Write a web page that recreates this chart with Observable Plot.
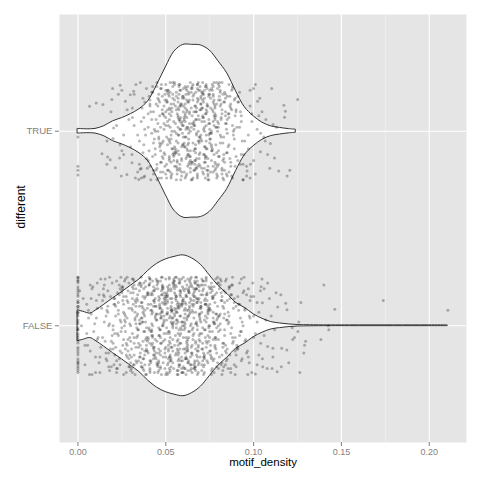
<!DOCTYPE html>
<html><head><meta charset="utf-8">
<script src="https://cdn.jsdelivr.net/npm/d3@7"></script>
<script src="https://cdn.jsdelivr.net/npm/@observablehq/plot@0.6"></script>
<style>body{margin:0;background:#fff;} #chart{width:480px;height:480px;}</style>
</head><body><div id="chart"></div>
<script>
// categories and axis ticks
const categories = ["FALSE", "TRUE"];
const catPos = {FALSE: 1, TRUE: 2};
const xTicks = [0, 0.05, 0.1, 0.15, 0.2];
const xMinor = [0.025, 0.075, 0.125, 0.175];

// violin outlines (half-width in category units)
const violinTrueX = [0,.005,.01,.015,.02,.025,.03,.035,.04,.045,.05,.055,.06,.065,.07,.075,.08,.085,.09,.095,.1,.105,.11,.115,.12,.124];
const violinTrueHalf = [.012,.010,.012,.026,.051,.067,.087,.113,.154,.236,.328,.410,.444,.444,.441,.415,.359,.297,.205,.123,.077,.044,.025,.017,.011,.008];
const violinFalseX = [0,.003,.007,.01,.015,.02,.025,.03,.035,.04,.045,.05,.055,.06,.065,.07,.075,.08,.085,.09,.095,.1,.105,.11,.115,.12,.125,.13,.14,.16,.18,.2,.2105];
const violinFalseHalf = [.079,.072,.063,.077,.108,.141,.172,.205,.238,.282,.318,.341,.354,.362,.346,.313,.259,.205,.164,.118,.092,.059,.036,.019,.012,.007,.004,.003,.002,.002,.002,.002,.002];

// vertical jitter offsets of the points
const jitter = [
.12,-.21,.03,.24,-.08,-.17,.19,-.02,.07,-.24,.15,-.11,.22,-.05,.01,-.19,.09,.17,-.14,.05,
-.23,.13,-.06,.20,-.12,.02,.25,-.18,.10,-.01,-.09,.16,-.22,.06,.23,-.15,.00,-.20,.14,-.04,
.18,-.10,.08,-.25,.21,-.03,.11,-.16,.04,.19,-.13,-.07,.24,-.19,.13,-.24,.02,.09,-.11,.16,
-.06,.22,-.17,.01,.07,-.21,.15,-.02,-.14,.25,.10,-.08,.05,-.23,.18,-.12,.21,-.04,.12,-.18,
.03,-.09,.20,-.15,.08,.23,-.20,.14,-.05,-.22,.17,.00,-.13,.11,-.24,.06,.19,-.07,-.16,.24,
.09,-.01,-.19,.15,.04,-.12,.22,-.25,.13,.02,-.08,.18,-.17,.07,-.03,.25,-.21,.11,-.10,.05,
-.14,.20,.01,-.06,.16,-.23,.10,.08,-.18,.21,-.02,.14,-.11,-.20,.03,.17,-.05,.24,-.15,.12,
.06,-.24,.19,-.09,.00,.13,-.16,.23,-.04,.10,-.21,.05,.15,-.13,.22,-.07,-.19,.08,.02,-.12,
.25,-.03,-.17,.11,.18,-.10,.04,-.22,.14,-.06,.21,-.15,.09,.01,-.25,.16,-.08,.20,-.13,.07,
-.01,.12,-.20,.24,-.11,.06,-.16,.17,.03,-.23,.13,-.05,.19,-.18,.10,-.02,.23,-.14,.05,-.09,
.17,-.12,.04,-.22,.20,.08,-.06,.14,-.19,.01,.24,-.15,-.03,.10,-.24,.18,.06,-.10,.22,-.17,
-.07,.15,.25,-.13,.02,-.20,.11,-.01,.19,-.09,.05,-.23,.16,.09,-.16,.21,-.04,.13,-.21,.00,
.11,-.18,.07,.23,-.08,.14,-.25,.04,-.12,.20,-.02,.17,-.14,.08,.24,-.06,-.19,.12,.03,-.22,
.21,-.05,-.15,.09,.18,-.24,.01,.16,-.10,.06,-.18,.25,-.01,.13,-.21,.04,.19,-.11,-.07,.15,
-.16,.02,.22,-.20,.10,-.04,.14,-.13,.23,-.08,.07,.19,-.22,.00,.12,-.17,.05,.21,-.25,.09,
.04,.24,-.11,.16,-.03,-.19,.08,.20,-.14,.11,-.23,.02,.17,-.06,.25,-.12,.10,-.02,.15,-.20,
-.10,.19,.06,-.22,.13,-.07,.23,-.16,.01,.18,-.13,.09,-.24,.14,-.04,.07,.22,-.18,.11,-.01,
.16,-.21,.12,.03,-.09,.24,-.15,.05,.20,-.25,.10,-.05,.15,-.12,.02,-.17,.18,.08,-.23,.13,
-.02,.09,-.18,.21,.00,-.14,.17,-.08,.11,.25,-.20,.06,-.11,.19,-.16,.23,-.03,.04,-.24,.14,
.20,-.13,.01,-.06,.15,.07,-.22,.18,-.15,.03,.12,-.19,.22,-.09,.08,-.01,-.17,.24,.05,-.12,
.08,-.04,.21,-.23,.14,-.10,.02,.17,-.18,.25,-.07,.11,.00,-.21,.16,-.14,.06,.19,-.09,.23,
-.19,.13,-.02,.07,-.24,.20,.10,-.12,.04,-.16,.22,-.05,.15,-.25,.09,.01,-.20,.12,.18,-.08,
.14,-.22,.19,.05,-.13,-.01,.23,-.17,.08,.12,-.06,.21,-.11,.03,-.19,.16,.25,-.15,-.03,.10,
-.05,.18,-.20,.11,.06,-.09,.16,-.24,.21,-.14,.00,.13,-.18,.24,-.02,.07,-.12,.02,.19,-.16,
.23,-.08,.10,-.17,.01,.15,-.21,.09,-.03,.20,-.10,.04,.17,-.23,.12,-.07,.22,-.13,.06,-.25,
.02,.16,-.14,.22,-.06,-.18,.11,.03,-.22,.14,.19,-.11,.07,-.01,-.16,.24,-.09,.13,-.20,.05,
-.12,.21,.04,-.19,.17,-.02,.09,-.25,.13,-.07,.23,.01,-.15,.18,-.10,.06,-.21,.15,.00,-.13,
.19,-.06,-.24,.12,.03,-.15,.20,-.09,.16,-.20,.05,.25,-.04,.10,-.17,.14,.02,-.22,.21,-.11,
-.03,.11,.17,-.21,.08,-.12,.24,-.05,.00,.15,-.18,.22,-.08,-.14,.04,.19,-.24,.09,-.06,.16,
.13,-.16,.06,.20,-.25,.01,-.10,.14,.23,-.04,.10,-.20,.18,-.13,.07,-.02,.12,-.19,.25,-.07
];

// motif_density of the TRUE points (bulk, first set: jitter read forwards)
const trueX = [
.031,.034,.032,.033,.030,.035,.032,.034,.031,
.036,.038,.037,.039,.035,.038,.036,.040,.037,.039,.036,.038,
.041,.043,.042,.044,.040,.045,.041,.043,.042,.044,.041,.043,.042,.045,.040,.044,.043,.041,
.046,.048,.047,.049,.045,.050,.046,.048,.047,.049,.046,.048,.047,.050,.045,.049,.046,.047,.048,.049,.046,.048,.047,.045,.049,.050,.047,
.051,.053,.052,.054,.050,.055,.051,.053,.052,.054,.051,.053,.052,.055,.050,.054,.051,.052,.053,.054,.051,.053,.052,.050,.054,.055,.052,.051,.053,.052,.054,.051,.053,.055,.052,
.056,.058,.057,.059,.055,.060,.056,.058,.057,.059,.056,.058,.057,.060,.055,.059,.056,.057,.058,.059,.056,.058,.057,.055,.059,.060,.057,.056,.058,.057,.059,.056,.058,.060,.057,.056,.058,.059,.057,.058,
.061,.063,.062,.064,.060,.065,.061,.063,.062,.064,.061,.063,.062,.065,.060,.064,.061,.062,.063,.064,.061,.063,.062,.060,.064,.065,.062,.061,.063,.062,.064,.061,.063,.065,.062,.061,.063,.064,.062,.063,.061,
.066,.068,.067,.069,.065,.070,.066,.068,.067,.069,.066,.068,.067,.070,.065,.069,.066,.067,.068,.069,.066,.068,.067,.065,.069,.070,.067,.066,.068,.067,.069,.066,.068,.070,.067,.066,.068,.069,.067,.068,
.071,.073,.072,.074,.070,.075,.071,.073,.072,.074,.071,.073,.072,.075,.070,.074,.071,.072,.073,.074,.071,.073,.072,.070,.074,.075,.072,.071,.073,.072,.074,.071,.073,.075,.072,.071,.073,.074,.072,.073,
.076,.078,.077,.079,.075,.080,.076,.078,.077,.079,.076,.078,.077,.080,.075,.079,.076,.077,.078,.079,.076,.078,.077,.075,.079,.080,.077,.076,.078,.077,.079,.076,.078,.080,.077,
.081,.083,.082,.084,.080,.085,.081,.083,.082,.084,.081,.083,.082,.085,.080,.084,.081,.082,.083,.084,.081,.083,.082,.080,.084,.085,.082,.081,
.086,.088,.087,.089,.085,.090,.086,.088,.087,.089,.086,.088,.087,.090,.085,.089,.086,.087,.088,.089,.086,
.091,.093,.092,.094,.090,.095,.091,.093,.092,.094,.091,.093,
.096,.098,.097,.099,.096,.098
];
// TRUE points, second set (jitter read backwards)
const trueX2 = [
.0375,.0355,.0395,.0365,.0385,.0375,
.0425,.0405,.0445,.0415,.0435,.0425,.0445,.0405,.0435,.0415,.0425,.0445,
.0475,.0455,.0495,.0465,.0485,.0475,.0495,.0455,.0485,.0465,.0475,.0495,.0465,.0455,.0485,.0475,.0495,.0465,.0485,.0455,
.0525,.0505,.0545,.0515,.0535,.0525,.0545,.0505,.0535,.0515,.0525,.0545,.0515,.0505,.0535,.0525,.0545,.0515,.0535,.0505,.0525,.0515,.0545,.0535,.0505,.0525,
.0575,.0555,.0595,.0565,.0585,.0575,.0595,.0555,.0585,.0565,.0575,.0595,.0565,.0555,.0585,.0575,.0595,.0565,.0585,.0555,.0575,.0565,.0595,.0585,.0555,.0575,.0585,.0565,.0595,.0575,
.0625,.0605,.0645,.0615,.0635,.0625,.0645,.0605,.0635,.0615,.0625,.0645,.0615,.0605,.0635,.0625,.0645,.0615,.0635,.0605,.0625,.0615,.0645,.0635,.0605,.0625,.0635,.0615,.0645,.0625,.0605,
.0675,.0655,.0695,.0665,.0685,.0675,.0695,.0655,.0685,.0665,.0675,.0695,.0665,.0655,.0685,.0675,.0695,.0665,.0685,.0655,.0675,.0665,.0695,.0685,.0655,.0675,.0685,.0665,.0695,.0675,
.0725,.0705,.0745,.0715,.0735,.0725,.0745,.0705,.0735,.0715,.0725,.0745,.0715,.0705,.0735,.0725,.0745,.0715,.0735,.0705,.0725,.0715,.0745,.0735,.0705,.0725,.0735,.0715,.0745,.0725,
.0775,.0755,.0795,.0765,.0785,.0775,.0795,.0755,.0785,.0765,.0775,.0795,.0765,.0755,.0785,.0775,.0795,.0765,.0785,.0755,.0775,.0765,.0795,.0785,.0755,.0775,
.0825,.0805,.0845,.0815,.0835,.0825,.0845,.0805,.0835,.0815,.0825,.0845,.0815,.0805,.0835,.0825,.0845,.0815,.0835,.0805,
.0875,.0855,.0895,.0865,.0885,.0875,.0895,.0855,.0885,.0865,.0875,.0895,.0865,
.0925,.0905,.0945,.0915,.0935,.0925
];
// TRUE points in the tails: [motif_density, jitter]
const trueTail = [
[0,-.18],[0,-.20],[0,-.225],[0,-.03],
[.0066,.128],[.0104,.145],[.0142,.137],[.0197,.22],[.0193,.163],[.0188,.10],[.0241,.236],[.027,.154],[.0298,.188],[.0317,.205],
[.0203,.017],[.0165,-.05],[.02,-.037],[.0137,-.116],[.0169,-.133],[.0184,-.147],[.0165,-.17],[.0213,-.188],[.0247,-.23],[.0279,-.222],
[.0327,-.24],[.0346,-.248],[.0374,-.236],[.0237,-.137],[.026,-.12],[.0308,-.12],[.0308,-.162],[.025,-.10],[.0355,-.196],
[.022,.03],[.026,-.02],[.029,.06],[.024,-.07],[.028,.11],[.023,.19],[.025,.21],
[.1251,.163],[.1172,.133],[.1181,.103],[.1176,.072],[.1103,.219],[.1206,-.20],[.1191,-.23],[.1143,-.205],[.1119,-.137],[.1092,-.19],
[.1096,-.063],[.1111,.034],[.1058,-.03],[.1066,-.05],[.1039,-.106],[.101,.24],[.10,.22],[.1035,.17],[.1023,.154],[.1048,.10],
[.101,-.22],[.098,-.24],[.094,-.25],[.0963,-.205],[.0982,-.17],
[.102,.01],[.107,.06],[.104,-.01],[.108,-.12],[.113,.02],[.099,.05],[.097,-.09],[.1,-.15],[.103,.08]
];

// motif_density of the FALSE points (bulk, first set: jitter read forwards)
const falseX = [
0,0,0,0,0,0,0,0,0,0,0,0,0,0,0,0,0,0,0,0,0,0,0,0,0,0,0,0,0,0,0,0,0,0,0,0,
.002,.004,.003,.005,.001,.004,
.006,.008,.007,.009,.005,.010,.006,.008,.007,
.011,.013,.012,.014,.010,.015,.011,.013,.012,.014,.011,
.016,.018,.017,.019,.015,.020,.016,.018,.017,.019,.016,.018,.017,.020,.015,
.021,.023,.022,.024,.020,.025,.021,.023,.022,.024,.021,.023,.022,.025,.020,.024,.021,.022,.023,.024,
.026,.028,.027,.029,.025,.030,.026,.028,.027,.029,.026,.028,.027,.030,.025,.029,.026,.027,.028,.029,.026,.028,.027,.025,
.031,.033,.032,.034,.030,.035,.031,.033,.032,.034,.031,.033,.032,.035,.030,.034,.031,.032,.033,.034,.031,.033,.032,.030,.034,.035,.032,.031,.033,
.036,.038,.037,.039,.035,.040,.036,.038,.037,.039,.036,.038,.037,.040,.035,.039,.036,.037,.038,.039,.036,.038,.037,.035,.039,.040,.037,.036,.038,.037,.039,.036,.038,
.041,.043,.042,.044,.040,.045,.041,.043,.042,.044,.041,.043,.042,.045,.040,.044,.041,.042,.043,.044,.041,.043,.042,.040,.044,.045,.042,.041,.043,.042,.044,.041,.043,.045,.042,.041,.043,.044,
.046,.048,.047,.049,.045,.050,.046,.048,.047,.049,.046,.048,.047,.050,.045,.049,.046,.047,.048,.049,.046,.048,.047,.045,.049,.050,.047,.046,.048,.047,.049,.046,.048,.050,.047,.046,.048,.049,.047,.048,.046,.047,
.051,.053,.052,.054,.050,.055,.051,.053,.052,.054,.051,.053,.052,.055,.050,.054,.051,.052,.053,.054,.051,.053,.052,.050,.054,.055,.052,.051,.053,.052,.054,.051,.053,.055,.052,.051,.053,.054,.052,.053,.051,.052,.054,.053,.051,
.056,.058,.057,.059,.055,.060,.056,.058,.057,.059,.056,.058,.057,.060,.055,.059,.056,.057,.058,.059,.056,.058,.057,.055,.059,.060,.057,.056,.058,.057,.059,.056,.058,.060,.057,.056,.058,.059,.057,.058,.056,.057,.059,.058,.056,.060,.057,
.061,.063,.062,.064,.060,.065,.061,.063,.062,.064,.061,.063,.062,.065,.060,.064,.061,.062,.063,.064,.061,.063,.062,.060,.064,.065,.062,.061,.063,.062,.064,.061,.063,.065,.062,.061,.063,.064,.062,.063,.061,.062,.064,.063,.061,.065,
.066,.068,.067,.069,.065,.070,.066,.068,.067,.069,.066,.068,.067,.070,.065,.069,.066,.067,.068,.069,.066,.068,.067,.065,.069,.070,.067,.066,.068,.067,.069,.066,.068,.070,.067,.066,.068,.069,.067,.068,.066,.067,.069,.068,
.071,.073,.072,.074,.070,.075,.071,.073,.072,.074,.071,.073,.072,.075,.070,.074,.071,.072,.073,.074,.071,.073,.072,.070,.074,.075,.072,.071,.073,.072,.074,.071,.073,.075,.072,.071,.073,.074,
.076,.078,.077,.079,.075,.080,.076,.078,.077,.079,.076,.078,.077,.080,.075,.079,.076,.077,.078,.079,.076,.078,.077,.075,.079,.080,.077,.076,.078,.077,.079,.076,
.081,.083,.082,.084,.080,.085,.081,.083,.082,.084,.081,.083,.082,.085,.080,.084,.081,.082,.083,.084,.081,.083,.082,.080,.084,
.086,.088,.087,.089,.085,.090,.086,.088,.087,.089,.086,.088,.087,.090,.085,.089,.086,.087,.088,
.091,.093,.092,.094,.090,.095,.091,.093,.092,.094,.091,.093,.092,.095,
.096,.098,.097,.099,.095,.100,.096,.098,.097
];
// FALSE points, second set (jitter read backwards)
const falseX2 = [
0,0,0,0,0,0,0,0,0,0,0,0,
.0075,.0055,.0095,.0065,.0085,.0075,
.0125,.0105,.0145,.0115,.0135,.0125,.0145,.0105,
.0175,.0155,.0195,.0165,.0185,.0175,.0195,.0155,.0185,.0165,.0175,
.0225,.0205,.0245,.0215,.0235,.0225,.0245,.0205,.0235,.0215,.0225,.0245,.0215,.0205,.0235,
.0275,.0255,.0295,.0265,.0285,.0275,.0295,.0255,.0285,.0265,.0275,.0295,.0265,.0255,.0285,.0275,.0295,.0265,.0285,.0255,
.0325,.0305,.0345,.0315,.0335,.0325,.0345,.0305,.0335,.0315,.0325,.0345,.0315,.0305,.0335,.0325,.0345,.0315,.0335,.0305,.0325,.0315,.0345,.0335,
.0375,.0355,.0395,.0365,.0385,.0375,.0395,.0355,.0385,.0365,.0375,.0395,.0365,.0355,.0385,.0375,.0395,.0365,.0385,.0355,.0375,.0365,.0395,.0385,.0355,.0375,.0385,.0365,
.0425,.0405,.0445,.0415,.0435,.0425,.0445,.0405,.0435,.0415,.0425,.0445,.0415,.0405,.0435,.0425,.0445,.0415,.0435,.0405,.0425,.0415,.0445,.0435,.0405,.0425,.0435,.0415,.0445,.0425,.0405,.0435,
.0475,.0455,.0495,.0465,.0485,.0475,.0495,.0455,.0485,.0465,.0475,.0495,.0465,.0455,.0485,.0475,.0495,.0465,.0485,.0455,.0475,.0465,.0495,.0485,.0455,.0475,.0485,.0465,.0495,.0475,.0455,.0485,.0465,.0495,.0475,
.0525,.0505,.0545,.0515,.0535,.0525,.0545,.0505,.0535,.0515,.0525,.0545,.0515,.0505,.0535,.0525,.0545,.0515,.0535,.0505,.0525,.0515,.0545,.0535,.0505,.0525,.0535,.0515,.0545,.0525,.0505,.0535,.0515,.0545,.0525,.0515,.0535,.0505,
.0575,.0555,.0595,.0565,.0585,.0575,.0595,.0555,.0585,.0565,.0575,.0595,.0565,.0555,.0585,.0575,.0595,.0565,.0585,.0555,.0575,.0565,.0595,.0585,.0555,.0575,.0585,.0565,.0595,.0575,.0555,.0585,.0565,.0595,.0575,.0565,.0585,.0555,.0595,.0575,
.0625,.0605,.0645,.0615,.0635,.0625,.0645,.0605,.0635,.0615,.0625,.0645,.0615,.0605,.0635,.0625,.0645,.0615,.0635,.0605,.0625,.0615,.0645,.0635,.0605,.0625,.0635,.0615,.0645,.0625,.0605,.0635,.0615,.0645,.0625,.0615,.0635,.0605,.0645,
.0675,.0655,.0695,.0665,.0685,.0675,.0695,.0655,.0685,.0665,.0675,.0695,.0665,.0655,.0685,.0675,.0695,.0665,.0685,.0655,.0675,.0665,.0695,.0685,.0655,.0675,.0685,.0665,.0695,.0675,.0655,.0685,.0665,.0695,.0675,.0665,
.0725,.0705,.0745,.0715,.0735,.0725,.0745,.0705,.0735,.0715,.0725,.0745,.0715,.0705,.0735,.0725,.0745,.0715,.0735,.0705,.0725,.0715,.0745,.0735,.0705,.0725,.0735,.0715,.0745,.0725,.0705,
.0775,.0755,.0795,.0765,.0785,.0775,.0795,.0755,.0785,.0765,.0775,.0795,.0765,.0755,.0785,.0775,.0795,.0765,.0785,.0755,.0775,.0765,.0795,.0785,.0755,
.0825,.0805,.0845,.0815,.0835,.0825,.0845,.0805,.0835,.0815,.0825,.0845,.0815,.0805,.0835,.0825,.0845,.0815,.0835,
.0875,.0855,.0895,.0865,.0885,.0875,.0895,.0855,.0885,.0865,.0875,.0895,.0865,.0855,
.0925,.0905,.0945,.0915,.0935,.0925,.0945,.0905,.0935,.0915,
.0975,.0955,.0995,.0965,.0985,.0975
];
// FALSE points in the right tail: [motif_density, jitter]
const falseTail = [
[.140,.21],[.1738,.13],[.2106,.08],[.1462,.085],[.1383,-.07],[.1425,0],[.1428,-.02],[.1263,-.24],[.1286,-.14],[.1296,-.08],
[.129,-.10],[.1269,.12],[.1257,.02],[.1252,-.03],[.1223,-.07],[.1233,-.06],[.12,-.19],[.1189,-.125],[.116,-.116],[.1158,-.21],
[.1183,.116],[.119,.082],[.1155,.16],[.1128,.17],[.1137,.096],[.1134,-.236],[.111,-.115],[.111,-.16],[.1105,-.22],[.1077,-.22],
[.1052,-.21],[.108,-.106],[.1048,.24],[.1043,.20],[.105,.118],[.101,-.248],[.0967,-.25],[.1039,.18],[.102,.12],[.103,-.15],
[.102,.02],[.122,-.01],[.1,.05],[.101,-.04],[.103,.07],[.106,-.05],[.107,.03],[.109,.14],[.104,-.09],[.112,-.02],
[.100,.15],[.105,-.17],[.108,.22],[.106,.19],[.102,-.2],[.110,.05]
];

// build tables
const violins = [];
violinTrueX.forEach((x, i) => violins.push({cat: "TRUE", x, h: violinTrueHalf[i]}));
violinFalseX.forEach((x, i) => violins.push({cat: "FALSE", x, h: violinFalseHalf[i]}));
const points = [];
const nJ = jitter.length;
const addSet = (cat, xs, backwards) => xs.forEach((x, i) => {
  const j = backwards ? jitter[nJ - 1 - i] : jitter[i];
  if (j !== undefined) points.push({cat, x, j});
});
addSet("TRUE", trueX, false);
addSet("TRUE", trueX2, true);
trueTail.forEach(([x, j]) => points.push({cat: "TRUE", x, j}));
addSet("FALSE", falseX, false);
addSet("FALSE", falseX2, true);
falseTail.forEach(([x, j]) => points.push({cat: "FALSE", x, j}));

const grey = "#7F7F7F";
const violinMark = cat => Plot.areaY(violins.filter(d => d.cat === cat), {
  x: "x", y1: d => catPos[d.cat] - d.h, y2: d => catPos[d.cat] + d.h,
  fill: "white", stroke: "#333333", strokeWidth: 1, curve: "catmull-rom"
});

const chart = Plot.plot({
  width: 480, height: 480,
  marginLeft: 59, marginRight: 14, marginTop: 14, marginBottom: 38,
  style: {fontFamily: "'Liberation Sans', Arial, Helvetica, sans-serif", background: "white", overflow: "visible"},
  x: {domain: [-0.0105, 0.2212], axis: null},
  y: {domain: [0.4, 2.6], axis: null},
  marks: [
    Plot.frame({fill: "#E5E5E5", stroke: null}),
    Plot.ruleX(xMinor, {stroke: "#F2F2F2", strokeWidth: 0.6}),
    Plot.ruleX(xTicks, {stroke: "white", strokeWidth: 1.1}),
    Plot.ruleY(categories.map(c => catPos[c]), {stroke: "white", strokeWidth: 1.1}),
    violinMark("TRUE"),
    violinMark("FALSE"),
    Plot.dot(points, {x: "x", y: d => catPos[d.cat] + d.j, r: 1.5, fill: "black", fillOpacity: 0.28, stroke: null}),
    Plot.axisX(xTicks, {tickFormat: d3.format(".2f"), tickSize: 4, tickPadding: 2.5, fontSize: 9, color: grey, label: null}),
    Plot.axisY(categories.map(c => catPos[c]), {tickFormat: d => d === 2 ? "TRUE" : "FALSE", tickSize: 4, tickPadding: 3, fontSize: 9.6, color: grey, label: null}),
    Plot.text(["motif_density"], {text: d => d, frameAnchor: "bottom", dy: 23.5, fontSize: 11.5, fill: "black"}),
    Plot.text(["different"], {text: d => d, frameAnchor: "left", dx: -38, rotate: -90, fontSize: 12, fill: "black"})
  ]
});
document.getElementById("chart").appendChild(chart);
</script>
</body></html>
